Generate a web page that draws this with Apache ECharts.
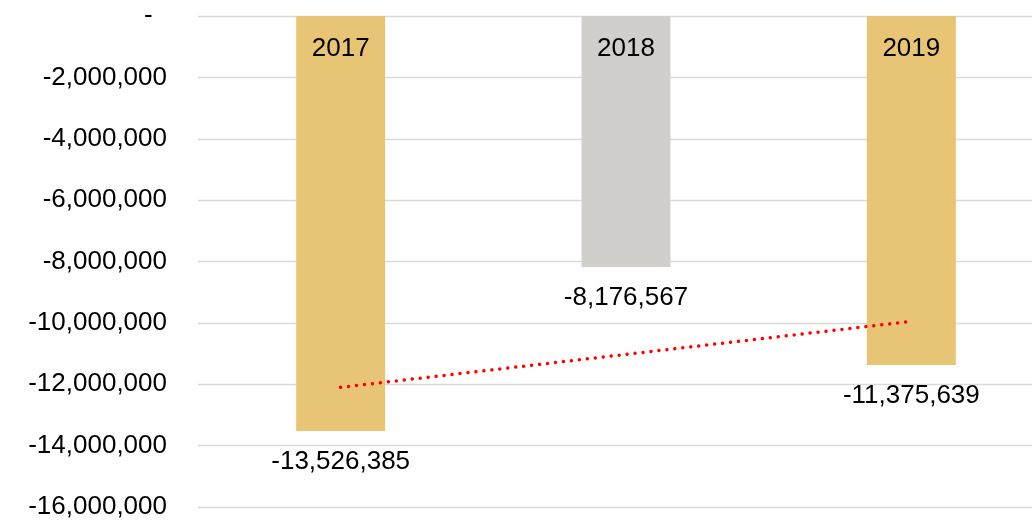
<!DOCTYPE html>
<html>
<head>
<meta charset="utf-8">
<script src="https://cdn.jsdelivr.net/npm/echarts@6/dist/echarts.min.js"></script>
<style>
  html, body { margin: 0; padding: 0; background: #fff; overflow: hidden; }
  /* the plot area runs past the right edge of the picture, so the canvas is wider than the window */
  #chart { width: 1054px; height: 520px; }
</style>
</head>
<body>
<div id="chart"></div>
<script>
const years = ['2017', '2018', '2019'];
const values = [-13526385, -8176567, -11375639];
const barColors = ['#E7C574', '#D0CFCC', '#E7C574'];
const trend = [-12101000, -11026000, -9951000];
const yTicks = { min: -16000000, max: 0, step: 2000000 };

const font = '"Liberation Sans", Arial, sans-serif';

function fmt(v) {
  if (v === 0) return '-  ';
  return v.toLocaleString('en-US');
}

const chart = echarts.init(document.getElementById('chart'));
chart.setOption({
  animation: false,
  backgroundColor: '#fff',
  grid: { left: 198, top: 16, right: 0, bottom: 11.5, containLabel: false },
  xAxis: {
    type: 'category',
    data: years,
    position: 'top',
    z: 10,
    axisLine: { show: false },
    axisTick: { show: false },
    axisLabel: { inside: true, margin: 20, fontFamily: font, fontSize: 26, color: '#000' }
  },
  yAxis: {
    type: 'value',
    min: yTicks.min,
    max: yTicks.max,
    interval: yTicks.step,
    axisLine: { show: false },
    axisTick: { show: false },
    splitLine: { lineStyle: { color: '#D9D9D9', width: 1.3 } },
    axisLabel: { margin: 31, fontFamily: font, fontSize: 26, color: '#000', formatter: fmt }
  },
  series: [
    {
      type: 'bar',
      barWidth: 89,
      data: values.map((v, i) => ({ value: v, itemStyle: { color: barColors[i] } })),
      label: {
        show: true,
        position: 'bottom',
        distance: 18,
        fontFamily: font,
        fontSize: 26,
        color: '#000',
        formatter: p => fmt(p.value)
      }
    },
    {
      type: 'line',
      data: trend,
      symbol: 'none',
      z: 5,
      lineStyle: { color: '#FF0000', width: 3.5, type: [0.01, 8], cap: 'round' }
    }
  ]
});
</script>
</body>
</html>
